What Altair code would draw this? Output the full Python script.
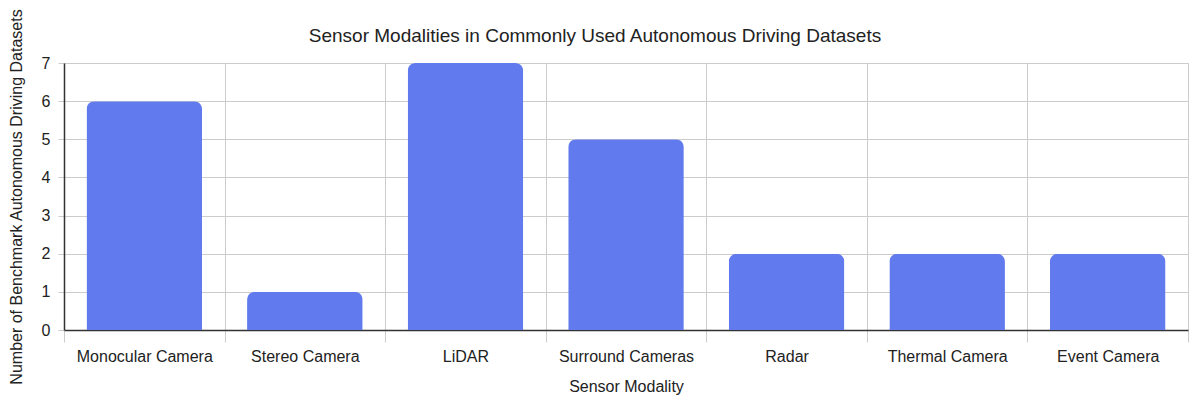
import altair as alt
import pandas as pd

categories = ["Monocular Camera", "Stereo Camera", "LiDAR", "Surround Cameras",
              "Radar", "Thermal Camera", "Event Camera"]
counts = [6, 1, 7, 5, 2, 2, 2]

df = pd.DataFrame({"Sensor Modality": categories, "Count": counts})

FONT = "Liberation Sans"

bars = alt.Chart(df).mark_bar(
    color="#617bef",
    width=alt.RelativeBandSize(0.72),
    cornerRadiusTopLeft=8,
    cornerRadiusTopRight=8,
).encode(
    x=alt.X("Sensor Modality:N", sort=categories,
            scale=alt.Scale(paddingInner=0, paddingOuter=0),
            axis=alt.Axis(title="Sensor Modality", labelAngle=0, tickBand="extent",
                          grid=True, gridColor="#cccccc", gridWidth=1,
                          domainColor="#333333", domainWidth=1.5,
                          tickColor="#cccccc", tickSize=12,
                          labelFontSize=16, labelColor="#222222", labelPadding=6,
                          titleFontSize=16, titleColor="#222222", titleFontWeight="normal",
                          titlePadding=14, labelFont=FONT, titleFont=FONT)),
    y=alt.Y("Count:Q",
            scale=alt.Scale(domain=[0, 7], nice=False),
            axis=alt.Axis(title="Number of Benchmark Autonomous Driving Datasets",
                          values=[0, 1, 2, 3, 4, 5, 6, 7], grid=True,
                          gridColor="#cccccc", gridWidth=1,
                          domainColor="#333333", domainWidth=1.5,
                          tickColor="#cccccc", tickSize=6,
                          labelFontSize=16, labelColor="#222222", labelPadding=8,
                          titleFontSize=16, titleColor="#222222", titleFontWeight="normal",
                          titlePadding=17, labelFont=FONT, titleFont=FONT)),
)

chart = bars.properties(
    width=1124,
    height=267,
    title=alt.TitleParams("Sensor Modalities in Commonly Used Autonomous Driving Datasets",
                          fontSize=19, font=FONT, fontWeight="normal", color="#222222",
                          anchor="middle", dx=-31, offset=0, dy=38),
    autosize=alt.AutoSizeParams(type="none"),
    padding={"left": 64, "top": 63, "right": 11, "bottom": 78},
).configure_view(stroke="#cccccc", strokeWidth=1)

chart.save("out.html", embed_options={"renderer": "svg", "actions": False})
